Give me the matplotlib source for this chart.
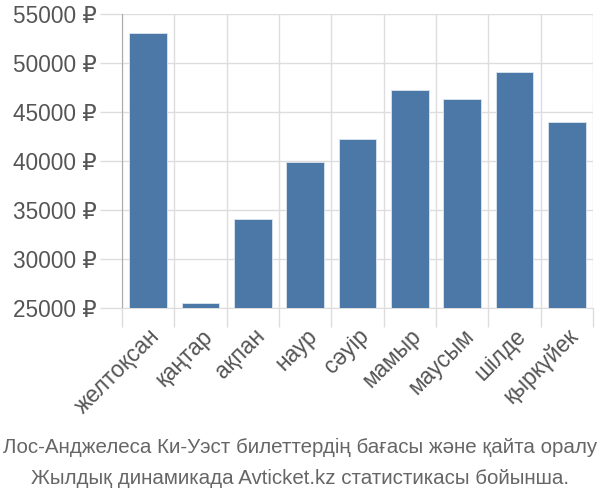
import matplotlib
matplotlib.use("Agg")
import matplotlib.pyplot as plt
import numpy as np

months = ["желтоқсан", "қаңтар", "ақпан", "наур", "сәуір", "мамыр", "маусым", "шілде", "қыркүйек"]
prices = [53100, 25480, 34100, 39900, 42200, 47200, 46300, 49050, 44000]
yticks = [25000, 30000, 35000, 40000, 45000, 50000, 55000]
title_lines = ["Лос-Анджелеса Ки-Уэст билеттердің бағасы және қайта оралу",
               "Жылдық динамикада Avticket.kz статистикасы бойынша."]

plt.rcParams['font.family'] = ['Liberation Sans', 'DejaVu Sans']
fig = plt.figure(figsize=(6, 5), dpi=100)
ax = fig.add_axes([122/600, 1-308/500, (593-122)/600, (308-14)/500])

x = np.arange(len(months))
ax.bar(x, prices, width=0.72, color="#4c78a8", edgecolor="#dde6f0", linewidth=0.6, zorder=3)
ax.set_xlim(-0.5, len(months)-0.5)
ax.set_ylim(25000, 55000)

ax.set_yticks(yticks)
ax.set_yticklabels([f"{v} ₽" for v in yticks], fontsize=16.3, color="#555555")
ax.set_xticks(x)
ax.set_xticklabels(months, rotation=45, ha="right", rotation_mode="anchor", fontsize=16.3, color="#555555")
ax.set_xticks(np.arange(len(months)+1)-0.5, minor=True)

ax.tick_params(axis="y", length=16, color="#dddddd", width=1, pad=2)
ax.tick_params(axis="x", which="major", length=0, pad=12)
ax.tick_params(axis="x", which="minor", length=14, color="#dddddd", width=1)

ax.grid(axis="y", color="#dddddd", linewidth=1, zorder=0)
ax.grid(axis="x", which="minor", color="#dddddd", linewidth=1, zorder=0)
for s in ["top", "right"]:
    ax.spines[s].set_visible(False)
ax.spines["left"].set_color("#aaaaaa")
ax.spines["bottom"].set_color("#dddddd")

fig.text(0.5, 1-447/500, title_lines[0], ha="center", va="center", fontsize=14.8, color="#666666")
fig.text(0.5, 1-478/500, title_lines[1], ha="center", va="center", fontsize=14.8, color="#666666")

fig.savefig("out.png", dpi=100)
